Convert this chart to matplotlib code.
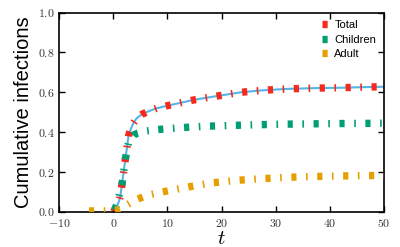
import matplotlib
matplotlib.use("Agg")
import matplotlib.pyplot as plt
from matplotlib.ticker import FuncFormatter

plt.rcParams["mathtext.fontset"] = "cm"
plt.rcParams["font.family"] = ["Liberation Sans", "DejaVu Sans"]

# total infections (model curve and data share these points)
t_total = [0.0, 0.5, 1.0, 1.3, 1.6, 1.9, 2.2, 2.5, 2.8, 3.2, 3.7, 4.3, 5.3, 6.5,
           8.0, 10.0, 12.0, 14.5, 17.0, 20.0, 23.5, 27.5, 32.0, 37.0, 42.0, 46.0, 50.0]
total = [0.0, 0.02, 0.05, 0.08, 0.14, 0.20, 0.26, 0.32, 0.38, 0.415, 0.445, 0.47,
         0.49, 0.505, 0.52, 0.533, 0.545, 0.56, 0.572, 0.585, 0.60, 0.61, 0.617,
         0.621, 0.623, 0.626, 0.628]

t_children = [0.2, 0.7, 1.0, 1.6, 1.9, 2.2, 2.5, 2.8, 3.2, 3.7, 4.5, 5.8, 8.0,
              12.6, 17.3, 22.0, 26.0, 31.0, 40.0, 50.0]
children = [0.01, 0.04, 0.075, 0.14, 0.20, 0.26, 0.31, 0.345, 0.37, 0.385, 0.395,
            0.405, 0.413, 0.423, 0.43, 0.434, 0.437, 0.44, 0.443, 0.445]

t_adult = [-4.5, -1.0, 0.5, 1.5, 2.5, 3.5, 4.5, 6.5, 9.0, 11.5, 14.0, 18.0, 22.5,
           27.0, 31.5, 36.0, 41.0, 45.5, 50.0]
adult = [0.005, 0.005, 0.008, 0.02, 0.035, 0.05, 0.065, 0.085, 0.10, 0.113, 0.126,
         0.145, 0.158, 0.166, 0.173, 0.177, 0.18, 0.182, 0.183]

labels = ["Total", "Children", "Adult"]
colors = ["#f52a1c", "#009e73", "#e69f00"]
fit_color = "#56b4e9"

xticks = [-10, 0, 10, 20, 30, 40, 50]
yticks = [0.0, 0.2, 0.4, 0.6, 0.8, 1.0]

dash = (0, (0.7, 1.3, 0.22, 1.3))
lw = 5.3

fig = plt.figure(figsize=(4, 2.47), dpi=100)
ax = fig.add_axes([0.148, 0.142, 0.812, 0.807])

ax.plot(t_total, total, color=fit_color, lw=1.5, zorder=1)
ax.plot(t_total, total, color=colors[0], lw=lw, linestyle=dash, label=labels[0], zorder=2)
ax.plot(t_children, children, color=colors[1], lw=lw, linestyle=dash, label=labels[1], zorder=3)
ax.plot(t_adult, adult, color=colors[2], lw=lw, linestyle=dash, label=labels[2], zorder=3)

ax.set_xlim(-10, 50)
ax.set_ylim(0, 1)
ax.set_xticks(xticks)
ax.set_yticks(yticks)
ax.xaxis.set_major_formatter(FuncFormatter(lambda v, p: "$%d$" % v))
ax.yaxis.set_major_formatter(FuncFormatter(lambda v, p: "$%.1f$" % v))
ax.tick_params(direction="in", length=4, width=1, top=True, right=True,
               labelsize=8.5, labelcolor="#333333")
ax.tick_params(axis="x", pad=4.5)
ax.tick_params(axis="y", pad=3.5)
for s in ax.spines.values():
    s.set_linewidth(1.2)

ax.set_xlabel("$t$", fontsize=15)
ax.xaxis.set_label_coords(0.5, -0.16)
ax.xaxis.label.set_va("baseline")
ax.set_ylabel("Cumulative infections", fontsize=14.5, labelpad=3.5)

ax.legend(loc="upper right", frameon=False, fontsize=8, handlelength=0.5,
          handletextpad=0.6, labelspacing=0.4, borderaxespad=0.3)

fig.savefig("out.png", dpi=100)
